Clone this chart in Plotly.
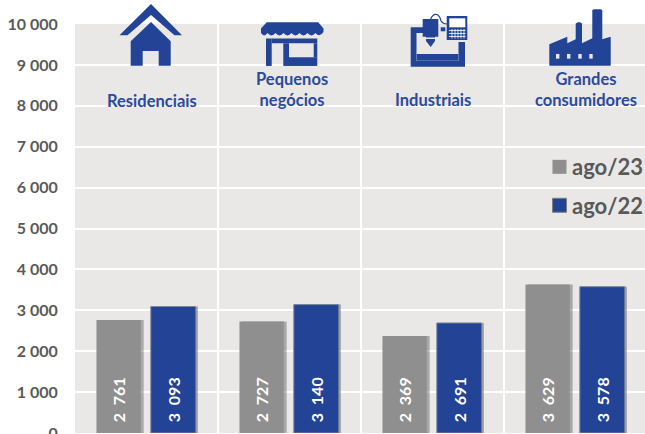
import plotly.graph_objects as go

categories = ["Residenciais", "Pequenos negócios", "Industriais", "Grandes consumidores"]
category_labels = ["Residenciais", "Pequenos<br>negócios", "Industriais", "Grandes<br>consumidores"]
ago23 = [2761, 2727, 2369, 3629]
ago22 = [3093, 3140, 2691, 3578]
y_ticks = [0, 1000, 2000, 3000, 4000, 5000, 6000, 7000, 8000, 9000, 10000]
y_tick_text = ["0", "1 000", "2 000", "3 000", "4 000", "5 000", "6 000", "7 000", "8 000", "9 000", "10 000"]

W, H = 645, 434
EXTRA = 16
L, T = 75, 24
PW, PH = W - L, 409.5
BLUE = "#224396"
GREY = "#8F8F8F"
LABEL_BLUE = "#2B4A9B"
TEXT_GREY = "#595959"
BG = "#E9E8E7"
CAT_W = 143


def fmt(v):
    return "\u00a0\u00a0" + f"{v:,}".replace(",", "\u00a0\u00a0")


def px_x(x):
    return (x - L) / PW


def px_y(y):
    return 1 - (y - T) / PH


def path(cmds):
    out = []
    for c in cmds:
        if c[0] == "Z":
            out.append("Z")
        else:
            coords = " ".join(f"{px_x(c[i]):.5f},{px_y(c[i + 1]):.5f}" for i in range(1, len(c), 2))
            out.append(f"{c[0]}{coords}")
    return " ".join(out)


def poly(points):
    return path([("M", *points[0])] + [("L", *p) for p in points[1:]] + [("Z",)])


def rect(x0, y0, x1, y1):
    return poly([(x0, y0), (x1, y0), (x1, y1), (x0, y1)])


def shape(d, color=BLUE):
    return dict(type="path", path=d, xref="paper", yref="paper", fillcolor=color,
                line=dict(width=0), layer="above")


def line_shape(cmds, color=BLUE, width=1):
    return dict(type="path", path=path(cmds), xref="paper", yref="paper",
                fillcolor="rgba(0,0,0,0)", line=dict(width=width, color=color), layer="above")


shapes = []

# house icon
shapes.append(shape(poly([(151, 4), (119.5, 35.3), (127.5, 35.3), (151, 15), (174.5, 35.3), (182, 35.3)])))
shapes.append(shape(poly([(151, 22), (130.7, 41.3), (130.7, 65.7), (142.7, 65.7), (142.7, 51),
                          (158.7, 51), (158.7, 65.7), (170.7, 65.7), (170.7, 41.3)])))

# shop icon
scallop = [("M", 266.7, 22.3), ("L", 318.3, 22.3), ("L", 323.5, 28.5), ("L", 323.5, 32)]
xs = [323.5, 315.5, 307.5, 299.5, 291.5, 283.5, 275.5, 267.5, 261]
for a, b in zip(xs[:-1], xs[1:]):
    scallop.append(("Q", (a + b) / 2, 38, b, 33))
scallop += [("L", 261, 28.5), ("Z",)]
shapes.append(shape(path(scallop)))
shapes.append(shape(rect(266, 38.5, 271.7, 66)))
shapes.append(shape(rect(271.7, 38.5, 317.3, 43.3)))
shapes.append(shape(rect(283.3, 43.3, 289, 66)))
shapes.append(shape(rect(289, 57.3, 317.3, 66)))
shapes.append(shape(rect(313.7, 43.3, 317.3, 57.3)))

# machine-tool icon
shapes.append(shape(poly([(410.7, 27.3), (423, 27.3), (423, 33), (416.5, 33), (416.5, 61), (458.5, 61),
                          (458.5, 42), (465, 42), (465, 66.7), (410.7, 66.7)])))
shapes.append(shape(rect(416.7, 54, 458.3, 60.7)))
shapes.append(shape(poly([(422.7, 19), (438.3, 19), (438.3, 36.7), (435, 36.7), (435, 41), (430.7, 47),
                          (426, 41), (426, 36.7), (422.7, 36.7)])))
shapes.append(shape(rect(425, 37.5, 436, 39), "#E9E8E7"))
shapes.append(line_shape([("M", 430.7, 19), ("Q", 433, 13.5, 437, 14.5), ("Q", 440, 16, 441, 21),
                          ("Q", 443, 24, 447, 24)], BLUE, 1.2))
shapes.append(shape(rect(440.7, 27.3, 445.3, 31.3)))
shapes.append(shape(rect(446.7, 16, 467.3, 40)))
shapes.append(shape(rect(449.3, 18.3, 465.3, 27.3), "#FFFFFF"))
for yy in (30.5, 33.5, 36.5):
    shapes.append(line_shape([("M", 449, yy), ("L", 465.5, yy)], "#FFFFFF", 0.8))
for xx in (452, 455, 458, 461, 464):
    shapes.append(line_shape([("M", xx, 29), ("L", xx, 38.5)], "#FFFFFF", 0.8))

# factory icon
shapes.append(shape(poly([(549.3, 65.7), (549.3, 44.3), (567.3, 36.7), (567.3, 43.3), (575.7, 39.3),
                          (575.7, 23.5), (578, 22.3), (580, 22.3), (582, 23.5), (582, 43.3), (592.3, 38.3),
                          (592.3, 10), (594, 9.3), (600.5, 9.3), (602.3, 10), (602.3, 39.3), (610.7, 36.7),
                          (610.7, 65.7)])))
for x0 in (556, 567, 578.3, 589.3):
    shapes.append(shape(rect(x0, 54, x0 + 3.4, 58.7), "#E9E8E7"))

# legend swatches
shapes.append(shape(rect(552.5, 160, 566.5, 174), GREY))
shapes.append(dict(type="path", path=rect(552.5, 198.5, 566.5, 212.5), xref="paper", yref="paper",
                   fillcolor=BLUE, line=dict(width=1, color="#7F7F7F"), layer="above"))

label_font = dict(family="Lato", size=16, color="#FFFFFF", weight="bold")
shadow_color = "rgba(90,90,90,0.45)"

fig = go.Figure()
fig.add_bar(x=categories, y=ago23, offset=-0.33, width=0.31, marker=dict(color=shadow_color, line_width=0),
            hoverinfo="skip", showlegend=False)
fig.add_bar(x=categories, y=ago22, offset=0.05, width=0.31, marker=dict(color=shadow_color, line_width=0),
            hoverinfo="skip", showlegend=False)
fig.add_bar(x=categories, y=ago23, name="ago/23", offset=-0.35, width=0.31,
            marker=dict(color=GREY, line=dict(width=0)), text=[fmt(v) for v in ago23],
            textposition="inside", insidetextanchor="start", textangle=-90, textfont=label_font,
            cliponaxis=False)
fig.add_bar(x=categories, y=ago22, name="ago/22", offset=0.03, width=0.315,
            marker=dict(color=BLUE, line=dict(width=1, color="#7F8799")), text=[fmt(v) for v in ago22],
            textposition="inside", insidetextanchor="start", textangle=-90, textfont=label_font,
            cliponaxis=False)

annotations = []
x_shifts = [5.5, 2, 0.5, 10]
for cat, lab, dx, yy in zip(categories, category_labels, x_shifts, [101, 90, 100.5, 90]):
    annotations.append(dict(x=cat, xref="x", y=px_y(yy), yref="paper", text=lab, showarrow=False,
                            xshift=dx, yanchor="middle", xanchor="center", align="center",
                            font=dict(family="Lato", size=16.5, color=LABEL_BLUE, weight="bold")))
for txt, yy in (("ago/23", 167), ("ago/22", 205.5)):
    annotations.append(dict(x=px_x(569.5), xref="paper", y=px_y(yy), yref="paper", text=txt, showarrow=False,
                            xanchor="left", yanchor="middle",
                            font=dict(family="Lato", size=22, color=TEXT_GREY, weight="bold")))

fig.update_layout(
    width=W, height=H + EXTRA,
    margin=dict(l=L, r=0, t=T, b=H + EXTRA - T - PH, pad=0),
    barmode="overlay",
    showlegend=False,
    paper_bgcolor="#FFFFFF",
    plot_bgcolor=BG,
    shapes=shapes,
    annotations=annotations,
    uniformtext=dict(mode=False),
    xaxis=dict(type="category", categoryorder="array", categoryarray=categories,
               range=[-0.5, -0.5 + PW / CAT_W], tickson="boundaries", showgrid=True, gridcolor="#FFFFFF",
               gridwidth=1.5, showticklabels=False, ticks="", zeroline=False, showline=False),
    yaxis=dict(range=[0, 10000], tickmode="array", tickvals=y_ticks, ticktext=y_tick_text,
               showgrid=True, gridcolor="#FFFFFF", gridwidth=1.5, zeroline=False, showline=False,
               ticks="outside", ticklen=13, tickcolor="rgba(0,0,0,0)",
               tickfont=dict(family="Lato", size=16, color=TEXT_GREY, weight="bold")),
)

fig.write_html("out.html", config=dict(displayModeBar=False),
               post_script="document.body.style.margin='0';document.documentElement.style.overflow='hidden';")
